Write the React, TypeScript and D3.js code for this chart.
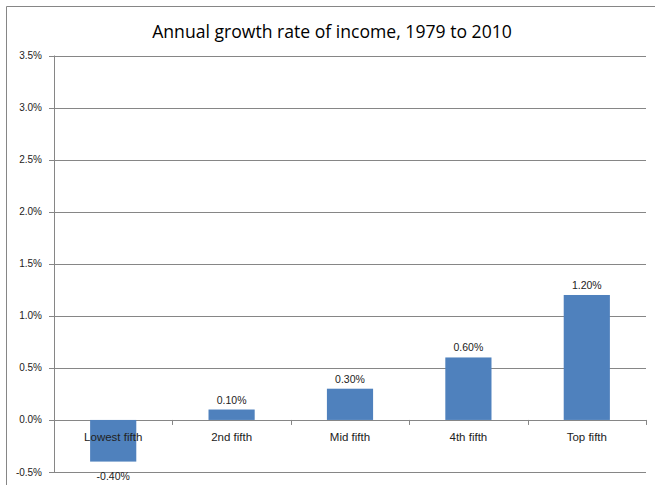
import React from "react";
import * as d3 from "d3";

const categories = ["Lowest fifth", "2nd fifth", "Mid fifth", "4th fifth", "Top fifth"];
const values = [-0.4, 0.1, 0.3, 0.6, 1.2];
const yTicks = [-0.5, 0, 0.5, 1.0, 1.5, 2.0, 2.5, 3.0, 3.5];
const title = "Annual growth rate of income, 1979 to 2010";

const W = 655;
const H = 485;
const plotLeft = 54;
const plotRight = 646;
const yTop = 55.5;
const yBottom = 472;
const font = "'Liberation Sans', Arial, sans-serif";

export default function App() {
  const x = d3.scaleBand<string>().domain(categories).range([plotLeft, plotRight]).paddingInner(0.61).paddingOuter(0.305);
  const xb = d3.scaleBand<string>().domain(categories).range([plotLeft, plotRight]);
  const y = d3.scaleLinear().domain([-0.5, 3.5]).range([yBottom, yTop]);
  const y0 = y(0);
  const boundaries = d3.range(categories.length + 1).map((i) => plotLeft + i * xb.step());

  return (
    <svg width={W} height={H} style={{ position: "absolute", left: 0, top: 0, background: "#fff" }}>
      <rect x={0} y={0} width={W} height={H} fill="#fff" />
      <line x1={6.5} y1={6.5} x2={W} y2={6.5} stroke="#868686" strokeWidth={1} />
      <line x1={6.5} y1={6.5} x2={6.5} y2={H} stroke="#868686" strokeWidth={1} />
      <text x={332} y={38} textAnchor="middle" fontFamily="'Open Sans', sans-serif" fontSize={17.6} fill="#000">
        {title}
      </text>
      {yTicks.map((t) => (
        <g key={t}>
          <line x1={plotLeft - 5} x2={plotRight} y1={Math.round(y(t)) + 0.5} y2={Math.round(y(t)) + 0.5} stroke="#868686" strokeWidth={1} />
          <text x={42} y={y(t) + 3.5} textAnchor="end" fontFamily={font} fontSize={10} fill="#222">
            {t.toFixed(1) + "%"}
          </text>
        </g>
      ))}
      <line x1={plotLeft + 0.5} x2={plotLeft + 0.5} y1={yTop} y2={yBottom} stroke="#868686" strokeWidth={1} />
      {values.map((v, i) => {
        const c = categories[i];
        const top = y(Math.max(0, v));
        const bot = y(Math.min(0, v));
        return (
          <rect key={c} x={x(c)} y={top} width={x.bandwidth()} height={bot - top} fill="#4F81BD" />
        );
      })}
      {boundaries.map((b, i) => (
        <line key={i} x1={Math.round(b) + 0.5} x2={Math.round(b) + 0.5} y1={y0} y2={y0 + 5} stroke="#868686" strokeWidth={1} />
      ))}
      {categories.map((c) => (
        <text key={c} x={(xb(c) as number) + xb.bandwidth() / 2} y={441} textAnchor="middle" fontFamily={font} fontSize={11.5} fill="#222">
          {c}
        </text>
      ))}
      {values.map((v, i) => {
        const c = categories[i];
        const cx = (x(c) as number) + x.bandwidth() / 2;
        const ly = v >= 0 ? y(v) - 6 : y(v) + 18;
        return (
          <text key={c} x={cx} y={ly} textAnchor="middle" fontFamily={font} fontSize={10.5} fill="#222">
            {v.toFixed(2) + "%"}
          </text>
        );
      })}
    </svg>
  );
}
